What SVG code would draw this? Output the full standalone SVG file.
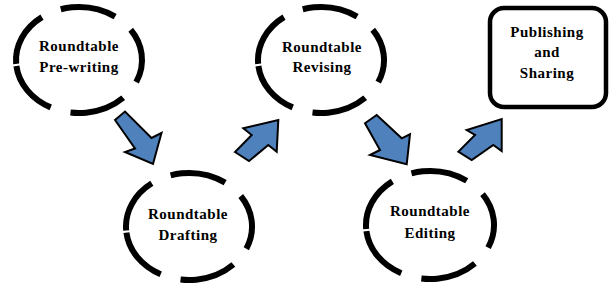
<svg xmlns="http://www.w3.org/2000/svg" width="612" height="289" viewBox="0 0 612 289">
<style>
.ring{fill:#fff;stroke:#000;stroke-width:6;stroke-dasharray:15.4 5.6}
.box{fill:#fff;stroke:#000;stroke-width:4.5}
.lbl{font-family:"Liberation Serif","Times New Roman",serif;font-weight:bold;font-size:15px;letter-spacing:0.5px;fill:#000;text-anchor:middle}
.arrow{fill:#4F81BD;stroke:#000;stroke-width:2;stroke-linejoin:miter}
</style>
<rect width="612" height="289" fill="#fff"/>
<g id="connectors">
<polygon class="arrow" points="115,120 125,111.5 151.5,138 161.5,133 153,164 125,152 135,148.5"/>
<polygon class="arrow" points="235,152 249,161 268.3,145 276.7,151.7 278.3,120 243.3,128.3 251.7,135"/>
<polygon class="arrow" points="365,123.3 376.7,115 401.7,138.3 410,134.3 406.7,164.3 370,155 380,150"/>
<polygon class="arrow" points="458.3,151.7 471.7,160 493.3,145 501.7,151 501.7,119 466.7,130 475,135"/>
</g>
<g id="prewriting">
<path class="ring" pathLength="100" d="M16.4,66 A63,53 0 0 0 141.6,54 A63,53 0 0 0 16.4,66"/>
<text class="lbl" x="79" y="51">Roundtable</text>
<text class="lbl" x="79" y="72">Pre-writing</text>
</g>
<g id="drafting">
<path class="ring" pathLength="100" d="M126.4,232.6 A63,53.5 0 0 0 251.6,220.4 A63,53.5 0 0 0 126.4,232.6"/>
<text class="lbl" x="188" y="219">Roundtable</text>
<text class="lbl" x="188" y="240">Drafting</text>
</g>
<g id="revising">
<path class="ring" pathLength="100" d="M258.4,66 A63,53 0 0 0 383.6,54 A63,53 0 0 0 258.4,66"/>
<text class="lbl" x="322" y="52">Roundtable</text>
<text class="lbl" x="322" y="72">Revising</text>
</g>
<g id="editing">
<path class="ring" pathLength="100" d="M366.4,231.1 A64,54 0 0 0 493.6,218.9 A64,54 0 0 0 366.4,231.1"/>
<text class="lbl" x="430" y="216">Roundtable</text>
<text class="lbl" x="430" y="238">Editing</text>
</g>
<g id="publishing">
<rect class="box" x="490" y="8" width="116" height="99" rx="14"/>
<text class="lbl" x="547" y="37">Publishing</text>
<text class="lbl" x="547" y="57">and</text>
<text class="lbl" x="547" y="78">Sharing</text>
</g>
</svg>
